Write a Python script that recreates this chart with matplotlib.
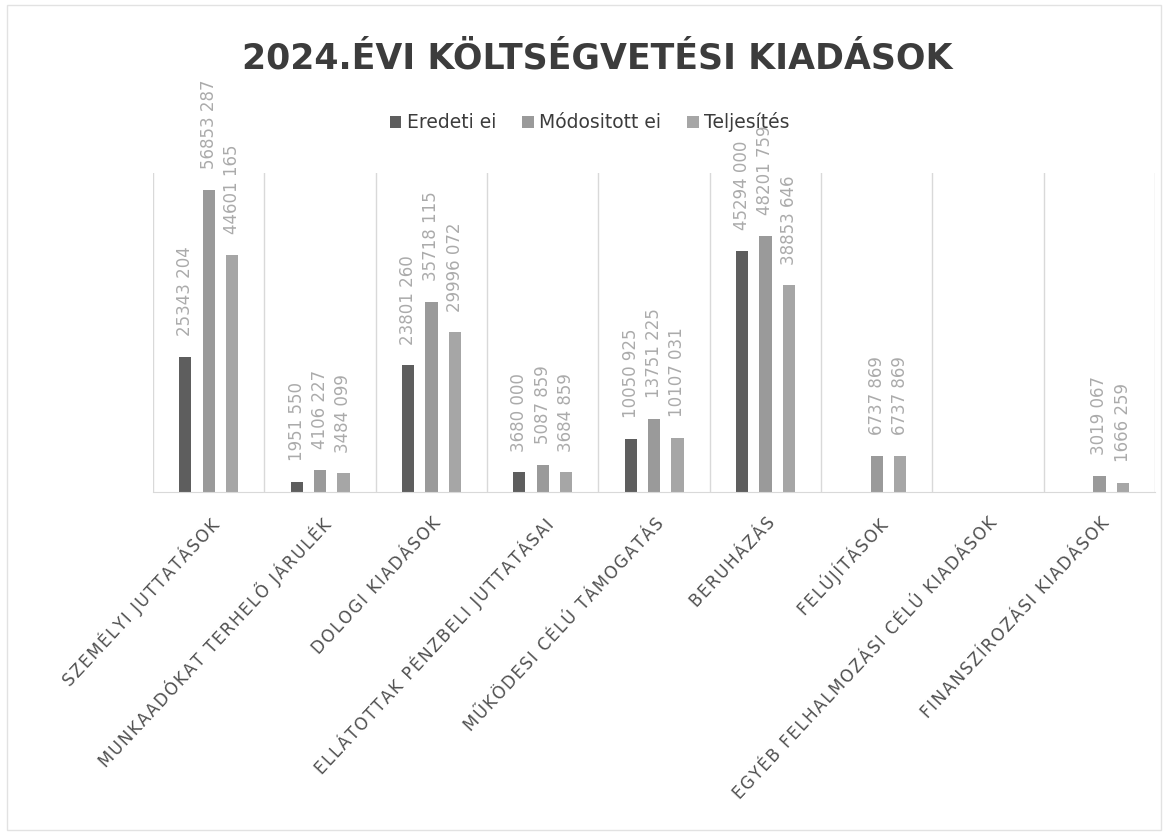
import numpy as np
import matplotlib.pyplot as plt
from matplotlib.patches import Rectangle

# Adatok
categories = ["SZEMÉLYI JUTTATÁSOK", "MUNKAADÓKAT TERHELŐ JÁRULÉK", "DOLOGI KIADÁSOK",
              "ELLÁTOTTAK PÉNZBELI JUTTATÁSAI", "MŰKÖDESI CÉLÚ TÁMOGATÁS", "BERUHÁZÁS",
              "FELÚJÍTÁSOK", "EGYÉB FELHALMOZÁSI CÉLÚ KIADÁSOK", "FINANSZÍROZÁSI KIADÁSOK"]
eredeti = [25343204, 1951550, 23801260, 3680000, 10050925, 45294000, None, None, None]
modositott = [56853287, 4106227, 35718115, 5087859, 13751225, 48201759, 6737869, None, 3019067]
teljesites = [44601165, 3484099, 29996072, 3684859, 10107031, 38853646, 6737869, None, 1666259]
series_names = ["Eredeti ei", "Módositott ei", "Teljesítés"]
colors = ["#5e5e5e", "#9a9a9a", "#a6a6a6"]

def fmt(v):
    return f"{v // 1000} {v % 1000:03d}"

def spaced(s, sep="\u200a"):
    # ritkított betűköz, mint az Excel tengelyfeliratoknál
    return sep.join(s)

fig = plt.figure(figsize=(11.68, 8.33), dpi=100)
fig.patches.append(Rectangle((0.006, 0.004), 0.988, 0.99, transform=fig.transFigure,
                             fill=False, edgecolor="#e2e2e2", linewidth=1))
ax = fig.add_axes([0.131, 0.4094, 0.858, 0.383])

x = np.arange(len(categories))
offsets = [-0.21, 0.0, 0.21]
width = 0.11
for vals, off, col, name in zip([eredeti, modositott, teljesites], offsets, colors, series_names):
    xs = [xi + off for xi, v in zip(x, vals) if v is not None]
    vs = [v for v in vals if v is not None]
    ax.bar(xs, vs, width=width, color=col, label=name)
    for xi, v in zip(xs, vs):
        ax.annotate(fmt(v), (xi, v), xytext=(0, 15), textcoords="offset points",
                    rotation=90, ha="center", va="bottom", fontsize=12, color="#ababab")

ax.set_xlim(-0.5, len(categories) - 0.5)
ax.set_ylim(0, 60e6)
ax.set_yticks([])
ax.set_xticks(x)
ax.set_xticklabels([spaced(c) for c in categories], rotation=47, ha="right",
                   rotation_mode="anchor", fontsize=12, color="#505050")
ax.tick_params(axis="x", length=0, pad=16)
ax.set_xticks(np.arange(-0.5, len(categories), 1), minor=True)
ax.tick_params(axis="x", which="minor", length=0)
ax.grid(axis="x", which="minor", color="#d9d9d9", linewidth=1)
for s in ["top", "left", "right"]:
    ax.spines[s].set_visible(False)
ax.spines["bottom"].set_color("#d9d9d9")

fig.text(0.511, 0.930, "2024.ÉVI KÖLTSÉGVETÉSI KIADÁSOK", ha="center", va="center",
         fontsize=25, fontweight="bold", color="#3c3c3c")
fig.legend(loc="center", bbox_to_anchor=(0.505, 0.853), ncol=3, frameon=False,
           fontsize=13.5, handlelength=0.6, handleheight=0.6, handletextpad=0.3,
           columnspacing=1.4, labelcolor="#3c3c3c")

plt.savefig("out.png", dpi=100)
